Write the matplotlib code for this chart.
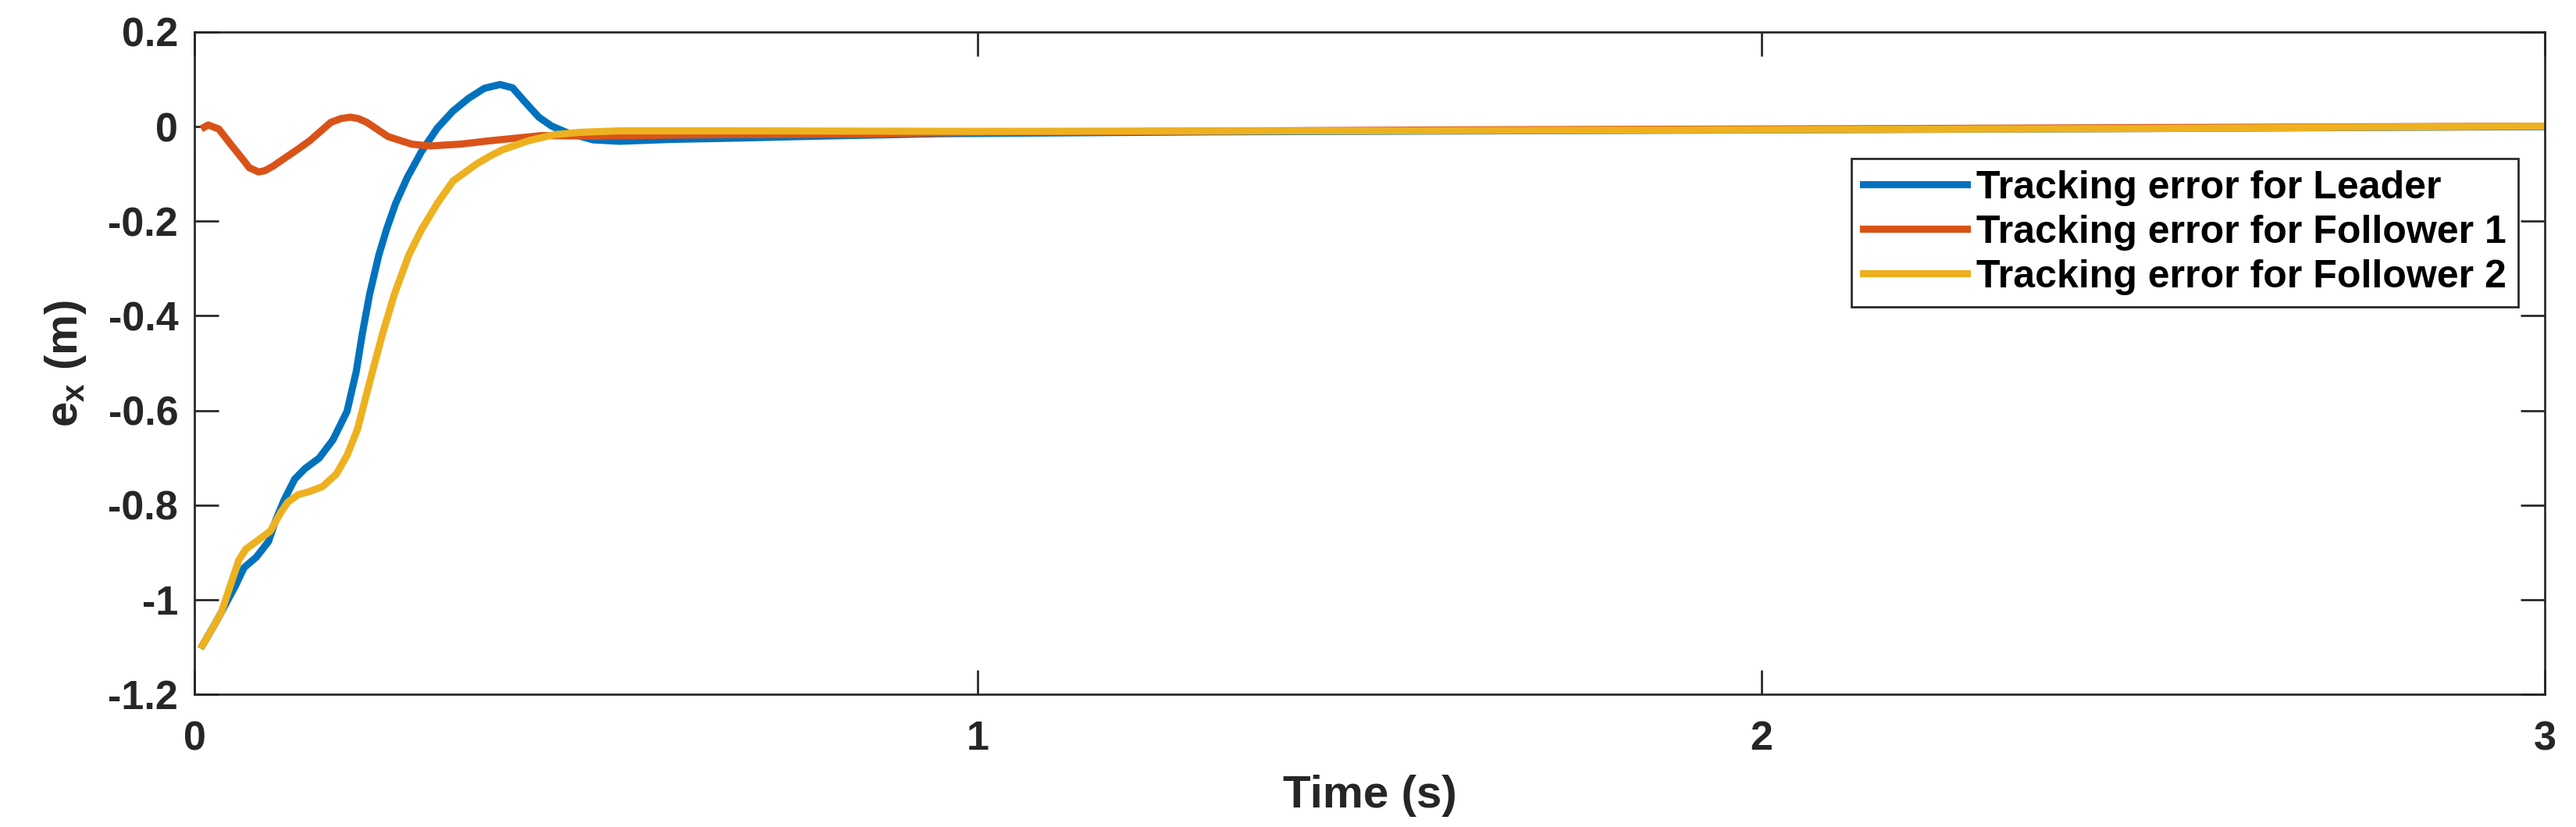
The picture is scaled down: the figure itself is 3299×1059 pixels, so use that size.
import numpy as np
import matplotlib as mpl
import matplotlib.pyplot as plt


COLORS = {
    "leader": "#0072BD",
    "f1": "#D95319",
    "f2": "#EDB120",
    "axis": "#262626",
}

T_LEADER = np.array([
    0.010, 0.0255, 0.0345, 0.0434, 0.0522, 0.0634, 0.079, 0.0945, 0.1035,
    0.1145, 0.128, 0.141, 0.159, 0.1768, 0.1947, 0.2063, 0.2143, 0.2236,
    0.2352, 0.2452, 0.2568, 0.2718, 0.290, 0.310, 0.330, 0.350, 0.370,
    0.390, 0.406, 0.423, 0.4395, 0.456, 0.476, 0.509, 0.5425, 0.609,
    0.70, 0.80, 0.95, 1.3, 2.0, 2.5, 3.0,
])
E_LEADER = np.array([
    -1.097, -1.053, -1.026, -0.998, -0.971, -0.932, -0.910, -0.877, -0.833,
    -0.789, -0.745, -0.723, -0.701, -0.662, -0.602, -0.519, -0.437, -0.354,
    -0.272, -0.217, -0.162, -0.107, -0.052, -0.003, 0.033, 0.060, 0.081,
    0.089, 0.082, 0.050, 0.020, 0.001, -0.013, -0.028, -0.031, -0.027,
    -0.024, -0.020, -0.015, -0.011, -0.007, -0.004, 0.000,
])

T_F1 = np.array([
    0.0126, 0.0176, 0.031, 0.0475, 0.064, 0.070, 0.082, 0.090, 0.100,
    0.114, 0.130, 0.147, 0.174, 0.187, 0.199, 0.209, 0.220, 0.247,
    0.277, 0.300, 0.340, 0.3764, 0.443, 0.509, 0.609, 0.679, 0.85,
    1.0, 1.6, 2.2, 3.0,
])
E_F1 = np.array([
    -0.001, 0.0035, -0.005, -0.040, -0.074, -0.087, -0.096, -0.093, -0.084,
    -0.068, -0.050, -0.030, 0.009, 0.017, 0.020, 0.017, 0.009, -0.021,
    -0.037, -0.041, -0.037, -0.030, -0.019, -0.020, -0.018, -0.017, -0.016,
    -0.012, -0.007, -0.004, 0.001,
])

T_F2 = np.array([
    0.010, 0.0255, 0.0345, 0.0455, 0.0567, 0.0656, 0.079, 0.0968, 0.110,
    0.119, 0.1324, 0.1457, 0.1635, 0.1813, 0.1947, 0.208, 0.2269, 0.2402,
    0.2552, 0.2734, 0.290, 0.310, 0.330, 0.360, 0.3764, 0.393, 0.426,
    0.4595, 0.4927, 0.5425, 0.68, 1.0, 1.5, 2.0, 2.5, 3.0,
])
E_F2 = np.array([
    -1.097, -1.053, -1.026, -0.971, -0.916, -0.893, -0.877, -0.855, -0.816,
    -0.794, -0.778, -0.772, -0.761, -0.734, -0.695, -0.640, -0.519, -0.437,
    -0.354, -0.272, -0.217, -0.162, -0.115, -0.079, -0.063, -0.049, -0.030,
    -0.017, -0.012, -0.009, -0.009, -0.010, -0.009, -0.0065, -0.004, 0.001,
])

LABELS = [
    "Tracking error for Leader",
    "Tracking error for Follower 1",
    "Tracking error for Follower 2",
]
X_TICKS = [0, 1, 2, 3]
Y_TICKS = [-1.2, -1.0, -0.8, -0.6, -0.4, -0.2, 0.0, 0.2]
Y_TICK_LABELS = ["-1.2", "-1", "-0.8", "-0.6", "-0.4", "-0.2", "0", "0.2"]


def apply_style():
    mpl.rcParams.update(
        {
            "font.family": ["Liberation Sans", "DejaVu Sans"],
            "font.weight": "bold",
            "axes.labelweight": "bold",
            "axes.unicode_minus": False,
            "mathtext.fontset": "custom",
            "mathtext.rm": "Liberation Sans:bold",
            "mathtext.bf": "Liberation Sans:bold",
            "mathtext.it": "Liberation Sans:bold",
            "axes.linewidth": 0.65,
            "axes.edgecolor": COLORS["axis"],
            "axes.labelcolor": COLORS["axis"],
            "xtick.color": COLORS["axis"],
            "ytick.color": COLORS["axis"],
        }
    )


def main():
    apply_style()

    fig = plt.figure(figsize=(3299 / 300, 1059 / 300), dpi=300)
    ax = fig.add_axes([0.0755, 0.1605, 0.9124, 0.8008])

    lw = 2.2
    ax.plot(T_LEADER, E_LEADER, color=COLORS["leader"], linewidth=lw, label=LABELS[0])
    ax.plot(T_F1, E_F1, color=COLORS["f1"], linewidth=lw, label=LABELS[1])
    ax.plot(T_F2, E_F2, color=COLORS["f2"], linewidth=lw, label=LABELS[2])

    ax.set_xlim(0, 3)
    ax.set_ylim(-1.2, 0.2)
    ax.set_xticks(X_TICKS)
    ax.set_yticks(Y_TICKS, Y_TICK_LABELS)
    ax.tick_params(
        direction="in", length=7.5, width=0.65, top=True, right=True, labelsize=12.5
    )
    ax.tick_params(axis="x", pad=8)
    ax.tick_params(axis="y", pad=5)

    ax.set_xlabel("Time (s)", fontsize=14, labelpad=5)
    ax.set_ylabel(r"e$_{\mathrm{x}}$ (m)", fontsize=14, labelpad=6)

    leg = ax.legend(
        loc="upper right",
        bbox_to_anchor=(0.9887, 0.809),
        borderaxespad=0,
        fontsize=12,
        handlelength=2.65,
        handletextpad=0.25,
        labelspacing=0.22,
        borderpad=0.3,
        fancybox=False,
        framealpha=1,
        edgecolor=COLORS["axis"],
    )
    leg.get_frame().set_linewidth(0.65)
    for line in leg.get_lines():
        line.set_linewidth(2.2)

    fig.savefig("out.png", dpi=300)
    plt.close(fig)


if __name__ == "__main__":
    main()
